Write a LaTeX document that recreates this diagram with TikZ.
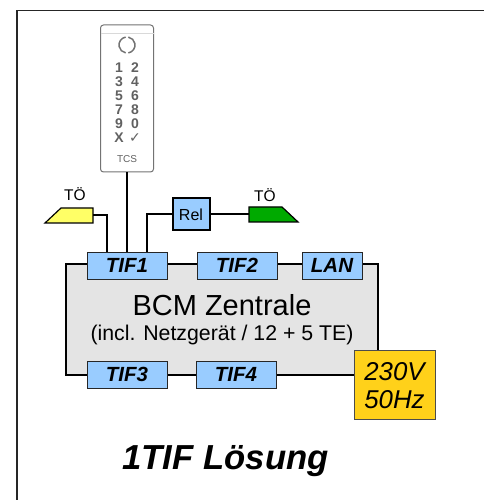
\documentclass[tikz,border=0pt]{standalone}
\usepackage{fontspec}
\usepackage{xcolor}
\setmainfont{Liberation Sans}
\newfontfamily\symfont{DejaVu Sans}
\usetikzlibrary{positioning}
\definecolor{tifblue}{HTML}{99CCFF}
\definecolor{bcmgray}{HTML}{E4E4E4}
\definecolor{powergold}{HTML}{FFD11A}
\definecolor{doorgreen}{HTML}{00AA00}
\definecolor{dooryellow}{HTML}{FFFF66}
\tikzstyle{tifbox} = [rectangle, draw=black!85, line width=0.9pt, fill=tifblue, minimum width=80pt, minimum height=27pt, inner sep=0pt, outer sep=0pt, font=\fontsize{20.5}{22}\selectfont\bfseries\itshape]
\tikzstyle{door} = [draw=black, line width=1.2pt]
\tikzstyle{wire} = [line width=2pt, black]
\tikzstyle{doorlabel} = [font=\fontsize{15.5}{17}\selectfont, inner sep=0pt]
\tikzstyle{key} = [text=black!62, font=\fontsize{14}{14}\selectfont\bfseries, inner sep=0pt]
\begin{document}
\begin{tikzpicture}[x=1pt, y=1pt]
        \useasboundingbox (0,0) rectangle (484,500);
        % Frame
        \draw [line width=1.6pt, black!85] (17,0) -- (17,489.5) -- (484,489.5);

        % Nodes
        \node (bcm) [rectangle, draw=black, line width=2pt, fill=bcmgray, minimum width=312pt, minimum height=111pt, inner sep=0pt, align=center, font=\fontsize{21.3}{25}\selectfont] at (222,180.5) {{\fontsize{29}{25}\selectfont BCM Zentrale}\\(incl. Netzgerät / 12 + 5 TE)};
        \node (tifa) [tifbox] at (127,234.5) {TIF1};
        \node (tifb) [tifbox, right=30pt of tifa] {TIF2};
        \node (lan) [tifbox, minimum width=60pt, right=25pt of tifb] {LAN};
        \node (tifc) [tifbox, below=82pt of tifa] {TIF3};
        \node (tifd) [tifbox, right=29pt of tifc] {TIF4};
        \node (power) [rectangle, draw=black!70, line width=1pt, fill=powergold, minimum width=81pt, minimum height=69pt, inner sep=0pt, align=center, font=\fontsize{25.8}{28}\selectfont\itshape] at (394.5,114.5) {230V\\50Hz};
        \node (rel) [rectangle, draw=black, line width=2pt, fill=tifblue, minimum width=37pt, minimum height=32pt, inner sep=0pt, font=\fontsize{16}{18}\selectfont] at (191,285.5) {Rel};
        \node (keypad) [rectangle, rounded corners=3pt, draw=black!55, line width=1pt, fill=white, minimum width=53pt, minimum height=147pt] at (127,401.5) {};

        % Doors
        \draw [door, fill=dooryellow] (45,277) -- (61,292) -- (93,292) -- (93,277) -- cycle;
        \draw [door, fill=doorgreen] (249,293) -- (282,293) -- (298,278) -- (249,278) -- cycle;
        \coordinate (doorleft) at (93,285);
        \coordinate (doorright) at (249,285.5);
        \node (doorlefttext) [doorlabel] at (75,306) {TÖ};
        \node (doorrighttext) [doorlabel] at (265,305) {TÖ};

        % Keypad
        \draw [black!15, line width=0.8pt] (100.5,467) -- (153.5,467);
        \draw [black!55, line width=1.5pt] (125.6,462.9) arc (100:260:8);
        \draw [black!55, line width=1.5pt] (128.4,447.1) arc (-80:80:8);
        \foreach \ka/\kb/\ky in {1/2/432, 3/4/418, 5/6/404, 7/8/390, 9/0/376, X/{\symfont ✓}/362}
            {
                \node [key] at (119,\ky) {\ka};
                \node [key] at (135,\ky) {\kb};
            }
        \node (logo) [key, font=\fontsize{10}{10}\selectfont] at (127,341) {TCS};

        % Title
        \node (title) [inner sep=0pt, font=\fontsize{34.7}{36}\selectfont\bfseries\itshape] at (225.5,38.5) {1TIF Lösung};

        % Connectors
        \draw [wire] (keypad.south) -- (tifa.north);
        \draw [wire] (doorleft) -| ([xshift=-20pt]tifa.north);
        \draw [wire] (rel.west) -| ([xshift=20pt]tifa.north);
        \draw [wire] (rel.east) -- (doorright);
    \end{tikzpicture}
\end{document}
